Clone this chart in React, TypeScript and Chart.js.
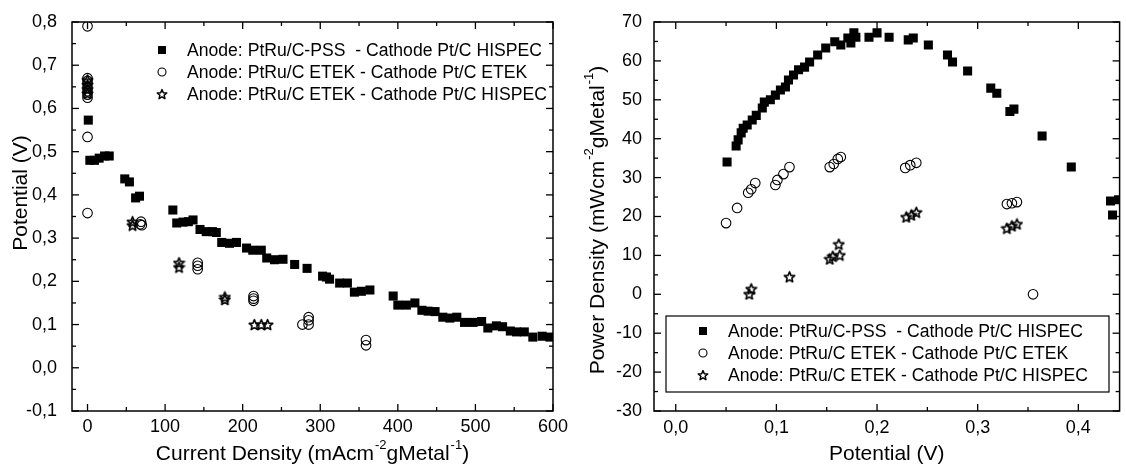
import React, { useEffect, useRef } from "react";
import { Chart, registerables } from "chart.js";
Chart.register(...registerables);

// ---------- Left chart: Potential vs Current Density ----------
const pssCurrentX = [1, 3, 9, 15, 22, 28, 48, 54, 62, 67, 110, 115, 123, 130, 136, 145, 153, 161, 166, 173, 183, 192, 205, 213, 224, 231, 241, 252, 267, 283, 303, 308, 312, 325, 335, 344, 353, 364, 394, 400, 411, 422, 431, 439, 448, 458, 467, 476, 486, 497, 508, 516, 527, 535, 545, 553, 563, 574, 586, 596];
const pssPotentialY = [0.573, 0.48, 0.48, 0.485, 0.49, 0.49, 0.437, 0.43, 0.393, 0.397, 0.365, 0.335, 0.337, 0.338, 0.342, 0.32, 0.315, 0.315, 0.313, 0.29, 0.288, 0.29, 0.277, 0.272, 0.272, 0.254, 0.25, 0.251, 0.239, 0.23, 0.212, 0.21, 0.205, 0.196, 0.196, 0.175, 0.177, 0.18, 0.166, 0.145, 0.145, 0.15, 0.133, 0.131, 0.13, 0.117, 0.115, 0.117, 0.105, 0.105, 0.107, 0.092, 0.097, 0.095, 0.085, 0.083, 0.083, 0.071, 0.073, 0.071];

const etekCurrentX = [0, 0, 0, 0, 0, 0, 0, 0, 0, 0, 69, 68, 70, 142, 142, 142, 214, 214, 214, 277, 285, 285, 285, 359, 359];
const etekPotentialY = [0.79, 0.67, 0.664, 0.657, 0.648, 0.64, 0.632, 0.625, 0.534, 0.358, 0.338, 0.332, 0.33, 0.243, 0.236, 0.228, 0.166, 0.16, 0.155, 0.1, 0.117, 0.11, 0.1, 0.064, 0.052];

const hispecCurrentX = [0, 0, 0, 0, 58, 58, 118, 118, 177, 177, 215, 224, 232];
const hispecPotentialY = [0.666, 0.655, 0.645, 0.635, 0.338, 0.33, 0.243, 0.233, 0.164, 0.158, 0.1, 0.1, 0.1];

const leftXTickValues = [0, 100, 200, 300, 400, 500, 600];
const leftXTickLabels = ["0", "100", "200", "300", "400", "500", "600"];
const leftXMinor = [50, 150, 250, 350, 450, 550];
const leftYTickValues = [-0.1, 0, 0.1, 0.2, 0.3, 0.4, 0.5, 0.6, 0.7, 0.8];
const leftYTickLabels = ["-0,1", "0,0", "0,1", "0,2", "0,3", "0,4", "0,5", "0,6", "0,7", "0,8"];
const leftYMinor = [-0.05, 0.05, 0.15, 0.25, 0.35, 0.45, 0.55, 0.65, 0.75];

// ---------- Right chart: Power Density vs Potential ----------
const pssVoltX = [0.051, 0.06, 0.062, 0.065, 0.067, 0.071, 0.076, 0.08, 0.086, 0.088, 0.094, 0.099, 0.104, 0.109, 0.112, 0.117, 0.122, 0.128, 0.133, 0.141, 0.149, 0.158, 0.164, 0.171, 0.174, 0.177, 0.179, 0.192, 0.2, 0.212, 0.231, 0.236, 0.251, 0.27, 0.275, 0.29, 0.313, 0.319, 0.332, 0.336, 0.364, 0.393, 0.432, 0.434, 0.44];
const pssPowerY = [34.0, 38.1, 39.7, 41.5, 42.7, 43.5, 44.8, 46.0, 47.9, 49.4, 50.0, 51.2, 52.5, 53.3, 55.1, 56.4, 57.7, 58.4, 59.7, 61.5, 63.3, 64.9, 64.1, 65.9, 64.6, 67.2, 66.1, 66.1, 67.2, 66.1, 65.4, 65.9, 64.1, 61.5, 59.7, 57.4, 53.0, 51.7, 47.0, 47.6, 40.7, 32.7, 24.0, 20.4, 24.3];

const etekVoltX = [0.05, 0.061, 0.072, 0.075, 0.079, 0.099, 0.101, 0.107, 0.113, 0.153, 0.157, 0.161, 0.164, 0.228, 0.233, 0.239, 0.329, 0.334, 0.339, 0.355];
const etekPowerY = [18.3, 22.2, 26.1, 27.0, 28.6, 28.1, 29.4, 30.9, 32.7, 32.7, 33.5, 34.8, 35.3, 32.5, 33.2, 33.8, 23.2, 23.4, 23.7, 0];

const hispecVoltX = [0.073, 0.075, 0.113, 0.153, 0.156, 0.163, 0.162, 0.229, 0.234, 0.239, 0.329, 0.334, 0.339];
const hispecPowerY = [0.1, 1.4, 4.5, 9.1, 9.8, 10.1, 12.9, 19.9, 20.4, 21.1, 17.0, 17.6, 18.1];

const rightXTickValues = [0, 0.1, 0.2, 0.3, 0.4];
const rightXTickLabels = ["0,0", "0,1", "0,2", "0,3", "0,4"];
const rightXMinor = [0.05, 0.15, 0.25, 0.35];
const rightYTickValues = [-30, -20, -10, 0, 10, 20, 30, 40, 50, 60, 70];
const rightYTickLabels = ["-30", "-20", "-10", "0", "10", "20", "30", "40", "50", "60", "70"];
const rightYMinor = [-25, -15, -5, 5, 15, 25, 35, 45, 55, 65];

const seriesLabels = [
  "Anode: PtRu/C-PSS  - Cathode Pt/C HISPEC",
  "Anode: PtRu/C ETEK - Cathode Pt/C ETEK",
  "Anode: PtRu/C ETEK - Cathode Pt/C HISPEC",
];

const FAMILY = "'Liberation Sans', Arial, Helvetica, sans-serif";

type Part = { t: string; sup?: boolean };

function makeStar(size: number, lw: number): HTMLCanvasElement {
  const c = document.createElement("canvas");
  c.width = size;
  c.height = size;
  const ctx = c.getContext("2d")!;
  const cx = size / 2;
  const cy = size / 2 + 0.6;
  const R = size / 2 - 1;
  const r = R * 0.45;
  ctx.beginPath();
  for (let i = 0; i < 10; i++) {
    const a = -Math.PI / 2 + (i * Math.PI) / 5;
    const rad = i % 2 === 0 ? R : r;
    const px = cx + rad * Math.cos(a);
    const py = cy + rad * Math.sin(a);
    if (i === 0) ctx.moveTo(px, py);
    else ctx.lineTo(px, py);
  }
  ctx.closePath();
  ctx.lineWidth = lw;
  ctx.lineJoin = "round";
  ctx.strokeStyle = "#000";
  ctx.stroke();
  return c;
}

function drawRich(ctx: CanvasRenderingContext2D, parts: Part[], size: number) {
  const supSize = Math.round(size * 0.62);
  let w = 0;
  for (const p of parts) {
    ctx.font = `${p.sup ? supSize : size}px ${FAMILY}`;
    w += ctx.measureText(p.t).width + (p.sup ? 1 : 0);
  }
  let x = -w / 2;
  ctx.textBaseline = "middle";
  ctx.textAlign = "left";
  for (const p of parts) {
    ctx.font = `${p.sup ? supSize : size}px ${FAMILY}`;
    ctx.fillText(p.t, x + (p.sup ? 1 : 0), p.sup ? -size * 0.42 : 0);
    x += ctx.measureText(p.t).width + (p.sup ? 1 : 0);
  }
}

const framePlugin = {
  id: "frame",
  afterDatasetsDraw(chart: any, _args: any, opts: any) {
    const { ctx, chartArea: a, scales } = chart;
    const xs = scales.x;
    const ys = scales.y;
    ctx.save();
    ctx.strokeStyle = "#000";
    ctx.fillStyle = "#000";
    ctx.lineWidth = 1.5;
    ctx.strokeRect(a.left, a.top, a.right - a.left, a.bottom - a.top);
    ctx.lineWidth = 1.3;
    const seg = (x1: number, y1: number, x2: number, y2: number) => {
      ctx.beginPath();
      ctx.moveTo(x1, y1);
      ctx.lineTo(x2, y2);
      ctx.stroke();
    };
    const xTick = (v: number, len: number) => {
      const p = xs.getPixelForValue(v);
      if (p < a.left - 0.5 || p > a.right + 0.5) return;
      seg(p, a.bottom, p, a.bottom - len);
      seg(p, a.top, p, a.top + len);
    };
    const yTick = (v: number, len: number) => {
      const p = ys.getPixelForValue(v);
      seg(a.left, p, a.left + len, p);
      seg(a.right, p, a.right - len, p);
    };
    opts.xMajor.forEach((v: number) => xTick(v, 7));
    opts.xMinor.forEach((v: number) => xTick(v, 4));
    opts.yMajor.forEach((v: number) => yTick(v, 7));
    opts.yMinor.forEach((v: number) => yTick(v, 4));

    // axis titles
    ctx.save();
    ctx.translate((a.left + a.right) / 2, opts.xTitleY);
    drawRich(ctx, opts.xTitle, 21);
    ctx.restore();
    ctx.save();
    ctx.translate(opts.yTitleX, opts.yTitleY);
    ctx.rotate(-Math.PI / 2);
    drawRich(ctx, opts.yTitle, 21);
    ctx.restore();

    // legend
    const lg = opts.legend;
    if (lg.box) {
      ctx.lineWidth = 1.2;
      ctx.strokeRect(lg.box[0], lg.box[1], lg.box[2], lg.box[3]);
    }
    ctx.font = `17.6px ${FAMILY}`;
    ctx.textBaseline = "middle";
    ctx.textAlign = "left";
    seriesLabels.forEach((label, i) => {
      const y = lg.y0 + i * lg.dy;
      const mx = lg.markerX;
      if (i === 0) {
        ctx.fillRect(mx - 4, y - 4, 8, 8);
      } else if (i === 1) {
        ctx.lineWidth = 1.1;
        ctx.beginPath();
        ctx.arc(mx, y, 4, 0, Math.PI * 2);
        ctx.stroke();
      } else {
        const s = opts.star;
        ctx.drawImage(s, mx - s.width / 2, y - s.height / 2);
      }
      ctx.fillText(label, lg.textX, y + 1);
    });
    ctx.restore();
  },
};

function toPoints(xs: number[], ys: number[]) {
  return xs.map((x, i) => ({ x, y: ys[i] }));
}

function makeConfig(p: any): any {
  const star = makeStar(13, 1.6);
  const starLegend = makeStar(12, 1.5);
  return {
    type: "scatter",
    data: {
      datasets: [
        {
          label: seriesLabels[0],
          data: toPoints(p.s1x, p.s1y),
          pointStyle: "rect",
          pointRadius: 6.4,
          backgroundColor: "#000",
          borderColor: "#000",
          borderWidth: 0,
        },
        {
          label: seriesLabels[1],
          data: toPoints(p.s2x, p.s2y),
          pointStyle: "circle",
          pointRadius: 4.8,
          backgroundColor: "rgba(0,0,0,0)",
          borderColor: "#000",
          borderWidth: 1.1,
        },
        {
          label: seriesLabels[2],
          data: toPoints(p.s3x, p.s3y),
          pointStyle: star,
          pointRadius: 5,
          backgroundColor: "rgba(0,0,0,0)",
          borderColor: "#000",
          borderWidth: 1,
        },
      ],
    },
    options: {
      responsive: false,
      animation: false,
      events: [],
      layout: { padding: p.padding },
      plugins: {
        legend: { display: false },
        tooltip: { enabled: false },
        frame: {
          xMajor: p.xTicks,
          xMinor: p.xMinor,
          yMajor: p.yTicks,
          yMinor: p.yMinor,
          xTitle: p.xTitle,
          yTitle: p.yTitle,
          xTitleY: p.xTitleY,
          yTitleX: p.yTitleX,
          yTitleY: p.yTitleY,
          legend: p.legend,
          star: starLegend,
        },
      },
      scales: {
        x: {
          type: "linear",
          min: p.xMin,
          max: p.xMax,
          grid: { display: false },
          border: { display: false },
          afterBuildTicks: (s: any) => {
            s.ticks = p.xTicks.map((v: number) => ({ value: v }));
          },
          afterFit: (s: any) => {
            s.height = p.xAxisHeight;
          },
          ticks: {
            autoSkip: false,
            maxRotation: 0,
            padding: p.xPad,
            color: "#000",
            font: { family: FAMILY, size: 18 },
            callback: (v: number) => {
              const i = p.xTicks.findIndex((t: number) => Math.abs(t - v) < 1e-9);
              return i >= 0 ? p.xLabels[i] : "";
            },
          },
        },
        y: {
          type: "linear",
          min: p.yMin,
          max: p.yMax,
          grid: { display: false },
          border: { display: false },
          afterBuildTicks: (s: any) => {
            s.ticks = p.yTicks.map((v: number) => ({ value: v }));
          },
          afterFit: (s: any) => {
            s.width = p.yAxisWidth;
          },
          ticks: {
            autoSkip: false,
            padding: p.yPad,
            color: "#000",
            font: { family: FAMILY, size: 18 },
            callback: (v: number) => {
              const i = p.yTicks.findIndex((t: number) => Math.abs(t - v) < 1e-9);
              return i >= 0 ? p.yLabels[i] : "";
            },
          },
        },
      },
    },
    plugins: [framePlugin],
  };
}

function ChartCanvas({ params, width, height, left }: any) {
  const ref = useRef<HTMLCanvasElement | null>(null);
  useEffect(() => {
    if (!ref.current) return;
    const chart = new Chart(ref.current, makeConfig(params));
    return () => chart.destroy();
  }, []);
  return (
    <canvas
      ref={ref}
      width={width}
      height={height}
      style={{ position: "absolute", left, top: 0, width, height }}
    />
  );
}

const leftParams = {
  s1x: pssCurrentX, s1y: pssPotentialY,
  s2x: etekCurrentX, s2y: etekPotentialY,
  s3x: hispecCurrentX, s3y: hispecPotentialY,
  xMin: -20, xMax: 600, yMin: -0.1, yMax: 0.8,
  xTicks: leftXTickValues, xLabels: leftXTickLabels, xMinor: leftXMinor,
  yTicks: leftYTickValues, yLabels: leftYTickLabels, yMinor: leftYMinor,
  padding: { top: 22, right: 22, left: 0, bottom: 0 },
  yAxisWidth: 72, xAxisHeight: 54, xPad: -3, yPad: 7,
  xTitle: [{ t: "Current Density (mAcm" }, { t: "-2", sup: true }, { t: "gMetal" }, { t: "-1", sup: true }, { t: ")" }],
  yTitle: [{ t: "Potential (V)" }],
  xTitleY: 454, yTitleX: 21, yTitleY: 193,
  legend: { markerX: 162, textX: 187, y0: 50, dy: 22 },
};

const rightParams = {
  s1x: pssVoltX, s1y: pssPowerY,
  s2x: etekVoltX, s2y: etekPowerY,
  s3x: hispecVoltX, s3y: hispecPowerY,
  xMin: -0.0216, xMax: 0.441, yMin: -30, yMax: 70,
  xTicks: rightXTickValues, xLabels: rightXTickLabels, xMinor: rightXMinor,
  yTicks: rightYTickValues, yLabels: rightYTickLabels, yMinor: rightYMinor,
  padding: { top: 22, right: 0, left: 0, bottom: 0 },
  yAxisWidth: 79, xAxisHeight: 54, xPad: -2, yPad: 4,
  xTitle: [{ t: "Potential (V)" }],
  yTitle: [{ t: "Power Density (mWcm" }, { t: "-2", sup: true }, { t: "gMetal" }, { t: "-1", sup: true }, { t: ")" }],
  xTitleY: 454, yTitleX: 23, yTitleY: 220,
  legend: { markerX: 128, textX: 153, y0: 331, dy: 22, box: [91, 316, 443, 76] },
};

export default function App() {
  return (
    <div style={{ position: "fixed", left: 0, top: 0, width: 1126, height: 465, background: "#fff", overflow: "hidden" }}>
      <ChartCanvas params={leftParams} width={575} height={465} left={0} />
      <ChartCanvas params={rightParams} width={551} height={465} left={575} />
    </div>
  );
}
